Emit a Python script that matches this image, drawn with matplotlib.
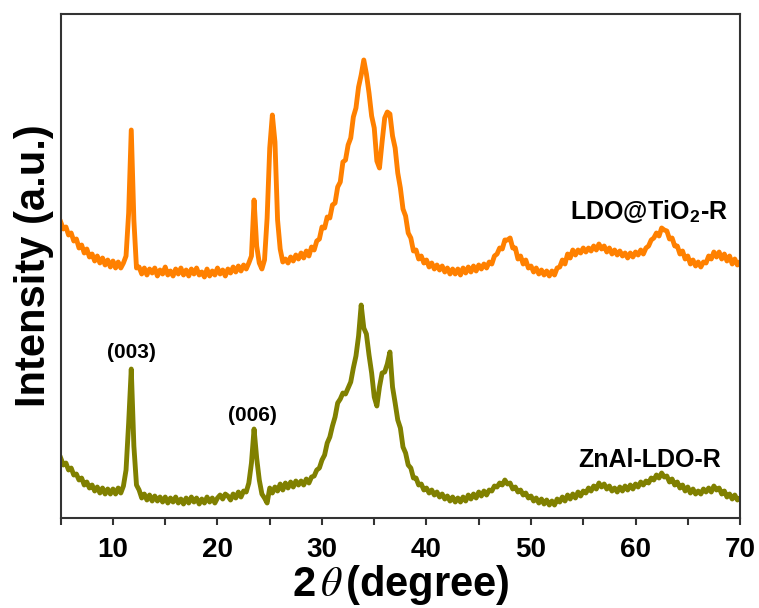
import numpy as np
import matplotlib
matplotlib.use("Agg")
import matplotlib.pyplot as plt

plt.rcParams['font.family'] = ['Liberation Sans', 'DejaVu Sans']
plt.rcParams['mathtext.fontset'] = 'stix'

# scan grid, 0.25 degree step from 5 to 70
two_theta = np.linspace(5, 70, 261)

# LDO@TiO2-R (arbitrary units)
ldo_tio2 = [
    296, 289, 291, 283,  285, 277, 279, 270,  273, 265, 269, 261,   # 5-7
    264, 257, 262, 255,  260, 253, 258, 251,  257, 250, 256, 250,   # 8-10
    255, 262, 305, 388,  298, 250, 251, 244,  250, 243, 249, 245,   # 11-13
    250, 242, 248, 244,  251, 243, 247, 242,  249, 244, 250, 243,   # 14-16
    248, 242, 249, 244,  250, 243, 246, 241,  249, 242, 247, 243,   # 17-19
    250, 244, 248, 242,  249, 245, 251, 246,  252, 247, 253, 249,   # 20-22
    255, 262, 318, 272,  255, 249, 258, 300,  370, 403, 376, 298,   # 23-25
    269, 256, 259, 255,  261, 257, 263, 259,  265, 260, 267, 262,   # 26-28
    271, 268, 277, 279,  291, 290, 301, 300,  313, 315, 331, 336,   # 29-31
    356, 358, 373, 380,  401, 410, 431, 443,  458, 444, 425, 402,   # 32-34
    390, 357, 350, 376,  400, 406, 404, 382,  370, 345, 330, 309,   # 35-37
    302, 285, 280, 267,  268, 259, 262, 255,  258, 251, 255, 249,   # 38-40
    253, 248, 252, 246,  250, 244, 249, 244,  249, 243, 250, 245,   # 41-43
    251, 246, 252, 247,  253, 249, 254, 250,  256, 254, 262, 264,   # 44-46
    270, 269, 278, 278,  280, 270, 270, 259,  262, 254, 258, 250,   # 47-49
    252, 246, 250, 244,  248, 243, 247, 242,  247, 243, 250, 251,   # 50-52
    258, 254, 264, 260,  268, 263, 268, 265,  270, 266, 270, 267,   # 53-55
    272, 268, 274, 269,  272, 266, 270, 264,  268, 263, 267, 262,   # 56-58
    265, 260, 265, 261,  266, 263, 268, 264,  270, 272, 278, 280,   # 59-61
    285, 282, 290, 288,  287, 279, 280, 272,  272, 264, 267, 259,   # 62-64
    262, 254, 258, 252,  256, 251, 256, 255,  262, 259, 266, 261,   # 65-67
    266, 259, 264, 257,  262, 254, 259, 253,  256,                  # 68-70
]

# ZnAl-LDO-R
znal_ldo = [
    60, 53, 55, 48,  50, 43, 44, 38,  40, 33, 36, 30,   # 5-7
    33, 27, 31, 25,  30, 24, 29, 24,  29, 24, 30, 25,   # 8-10
    32, 48, 95, 149,  72, 33, 28, 20,  24, 18, 23, 17,  # 11-13
    22, 17, 21, 16,  21, 15, 20, 16,  21, 15, 19, 14,   # 14-16
    20, 15, 21, 16,  20, 14, 19, 15,  21, 16, 20, 15,   # 17-19
    20, 23, 19, 24,  22, 18, 24, 20,  26, 21, 27, 26,   # 20-22
    35, 55, 89, 60,  38, 24, 20, 15,  30, 25, 31, 27,   # 23-25
    34, 28, 35, 30,  36, 31, 37, 33,  37, 33, 39, 35,   # 26-28
    41, 42, 48, 50,  58, 63, 75, 81,  92, 101, 115, 119,   # 29-31
    125, 124, 130, 136,  150, 162, 182, 213,  190, 184, 163, 145,   # 32-34
    121, 112, 131, 145,  146, 154, 166, 131,  115, 98, 90, 71,   # 35-37
    65, 53, 50, 40,  40, 33, 34, 28,  30, 25, 28, 23,   # 38-40
    26, 21, 24, 19,  22, 17, 21, 16,  20, 16, 21, 17,   # 41-43
    23, 19, 24, 20,  26, 22, 27, 23,  28, 27, 32, 31,   # 44-46
    35, 33, 38, 34,  35, 29, 31, 26,  28, 23, 25, 20,   # 47-49
    22, 17, 20, 15,  19, 14, 18, 13,  17, 13, 19, 16,   # 50-52
    21, 17, 23, 19,  24, 20, 26, 22,  27, 25, 30, 27,   # 53-55
    32, 29, 35, 31,  34, 29, 32, 27,  30, 26, 31, 27,   # 56-58
    32, 28, 33, 29,  34, 31, 36, 33,  37, 35, 40, 38,   # 59-61
    43, 40, 45, 41,  42, 36, 39, 33,  36, 30, 33, 27,   # 62-64
    31, 25, 29, 24,  27, 24, 29, 26,  30, 26, 32, 28,   # 65-67
    30, 24, 27, 21,  24, 19, 23, 18,  20,               # 68-70
]

sample_names = ['LDO@TiO$_\\mathregular{2}$-R', 'ZnAl-LDO-R']
colors = ['#FF8000', '#808000']

fig = plt.figure(figsize=(7.59, 6.08), dpi=100)
ax = fig.add_axes([0.080, 0.148, 0.895, 0.829])

ax.plot(two_theta, ldo_tio2, color=colors[0], lw=3.5, solid_joinstyle='round')
ax.plot(two_theta, znal_ldo, color=colors[1], lw=3.5, solid_joinstyle='round')

ax.set_xlim(5, 70)
ax.set_ylim(0, 504)

ax.set_xticks(np.arange(5, 71, 5))
ax.set_xticklabels(['' if t % 10 else str(t) for t in range(5, 71, 5)])
ax.set_yticks([])
ax.tick_params(axis='x', direction='out', length=5, width=1.5, pad=9,
               labelsize=20, color='#333333')
for lab in ax.get_xticklabels():
    lab.set_fontweight('bold')
for sp in ax.spines.values():
    sp.set_linewidth(1.5)
    sp.set_color('#333333')

ax.set_xlabel('2$\\,\\theta\\,$(degree)', fontsize=30, fontweight='bold', labelpad=0)
ax.set_ylabel('Intensity (a.u.)', fontsize=30, fontweight='bold', labelpad=5)

ax.text(68.8, 306, sample_names[0], fontsize=18, fontweight='bold', ha='right', va='center')
ax.text(68.2, 58, sample_names[1], fontsize=18, fontweight='bold', ha='right', va='center')
ax.text(11.8, 166, '(003)', fontsize=15, fontweight='bold', ha='center', va='center')
ax.text(23.35, 103, '(006)', fontsize=15, fontweight='bold', ha='center', va='center')

fig.savefig('out.png', dpi=100)
